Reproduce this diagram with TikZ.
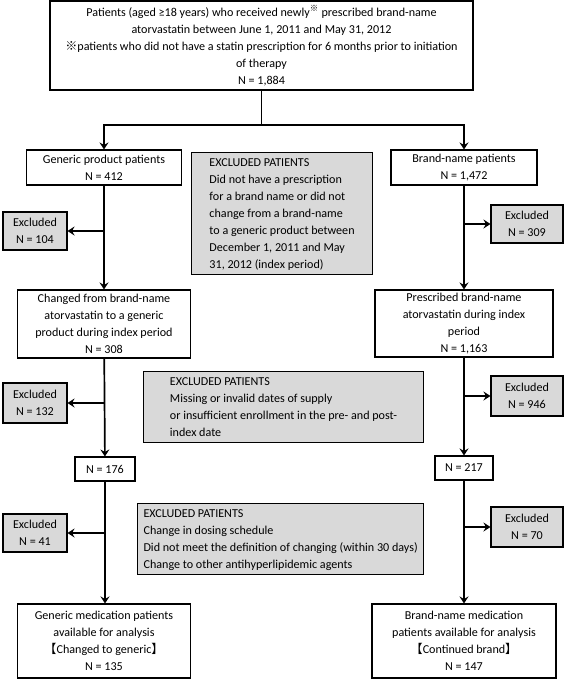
\documentclass[tikz,border=0pt]{standalone}
\usepackage{fontspec}
\setmainfont{Carlito}
\newfontfamily\cjk{Noto Sans CJK JP}
\usetikzlibrary{arrows.meta}
\begin{document}
\begin{tikzpicture}[x=1pt,y=-1pt,
  font=\fontsize{12.1}{17}\selectfont,
  box/.style={draw=black,line width=1.1pt,fill=white,align=center,inner sep=2pt},
  gbox/.style={draw=black,line width=1.1pt,fill=black!15,align=center,inner sep=2pt},
  lbox/.style={draw=black,line width=1.1pt,fill=black!15,align=left,inner sep=6pt,anchor=north west,text depth=0pt},
  arr/.style={line width=1.7pt,-{Stealth[length=7pt,width=9pt,inset=2.5pt]}},
  ln/.style={line width=1.7pt}]
\useasboundingbox (0,0) rectangle (567,681);
% top
\node[box,minimum width=423pt,minimum height=89pt] (top) at (261.5,45.5)
 {Patients (aged ≥18 years) who received newly\textsuperscript{\cjk ※} prescribed brand-name\\
  atorvastatin between June 1, 2011 and May 31, 2012\\
  {\cjk ※}patients who did not have a statin prescription for 6 months prior to initiation\\
  of therapy\\ N = 1,884};
\coordinate (split) at (261.5,125);
% left column
\node[box,minimum width=155pt,minimum height=35pt] (g1) at (104,167.5) {Generic product patients\\N = 412};
\node[box,minimum width=173pt,minimum height=68pt] (g2) at (104,324) {Changed from brand-name\\atorvastatin to a generic\\product during index period\\N = 308};
\node[box,minimum width=60pt,minimum height=24pt] (g3) at (105,469) {N = 176};
\node[box,minimum width=173pt,minimum height=74pt] (g4) at (104,641) {Generic medication patients\\available for analysis\\{\cjk 【}Changed to generic{\cjk 】}\\N = 135};
% right column
\node[box,minimum width=146pt,minimum height=35pt] (b1) at (464,167.5) {Brand-name patients\\N = 1,472};
\node[box,minimum width=178pt,minimum height=67pt] (b2) at (464,323.5) {Prescribed brand-name\\atorvastatin during index\\period\\N = 1,163};
\node[box,minimum width=58pt,minimum height=24pt] (b3) at (464,468) {N = 217};
\node[box,minimum width=184pt,minimum height=74pt] (b4) at (464,641) {Brand-name medication\\patients available for analysis\\{\cjk 【}Continued brand{\cjk 】}\\N = 147};
% excluded small boxes
\node[gbox,minimum width=64pt,minimum height=38pt] (e1) at (35,231) {Excluded\\N = 104};
\node[gbox,minimum width=64pt,minimum height=40pt] (e2) at (35,403) {Excluded\\N = 132};
\node[gbox,minimum width=64pt,minimum height=38pt] (e3) at (35,533) {Excluded\\N = 41};
\node[gbox,minimum width=72pt,minimum height=38pt] (e4) at (527,224) {Excluded\\N = 309};
\node[gbox,minimum width=72pt,minimum height=40pt] (e5) at (527,396) {Excluded\\N = 946};
\node[gbox,minimum width=72pt,minimum height=40pt] (e6) at (527,527) {Excluded\\N = 70};
% excluded patients text boxes
\node[lbox,minimum width=181pt,minimum height=119pt] (x1) at (191,152)
 {EXCLUDED PATIENTS\\Did not have a prescription\\for a brand name or did not\\change from a brand-name\\to a generic product between\\December 1, 2011 and May\\31, 2012 (index period)};
\node[lbox,minimum width=280pt,minimum height=68pt] (x2) at (143,371)
 {EXCLUDED PATIENTS\\Missing or invalid dates of supply\\or insufficient enrollment in the pre- and post-\\index date};
\node[lbox,minimum width=286pt,minimum height=70pt] (x3) at (137,503)
 {EXCLUDED PATIENTS\\Change in dosing schedule\\Did not meet the definition of changing (within 30 days)\\Change to other antihyperlipidemic agents};
% connectors
\draw[ln] (top) -- (split);
\draw[arr] (split) -| (g1.north);
\draw[arr] (split) -| (b1.north);
\draw[arr] (g1) -- (g2);
\draw[arr] (g1.south |- e1) -- (e1.east);
\draw[arr] (g2) -- (g3);
\draw[arr] (g2.south |- e2) -- (e2.east);
\draw[arr] (g3.south) -- (g3.south |- g4.north);
\draw[arr] (g3.south |- e3) -- (e3.east);
\draw[arr] (b1) -- (b2);
\draw[arr] (b1.south |- e4) -- (e4.west);
\draw[arr] (b2) -- (b3);
\draw[arr] (b2.south |- e5) -- (e5.west);
\draw[arr] (b3) -- (b4);
\draw[arr] (b3.south |- e6) -- (e6.west);
\end{tikzpicture}
\end{document}
